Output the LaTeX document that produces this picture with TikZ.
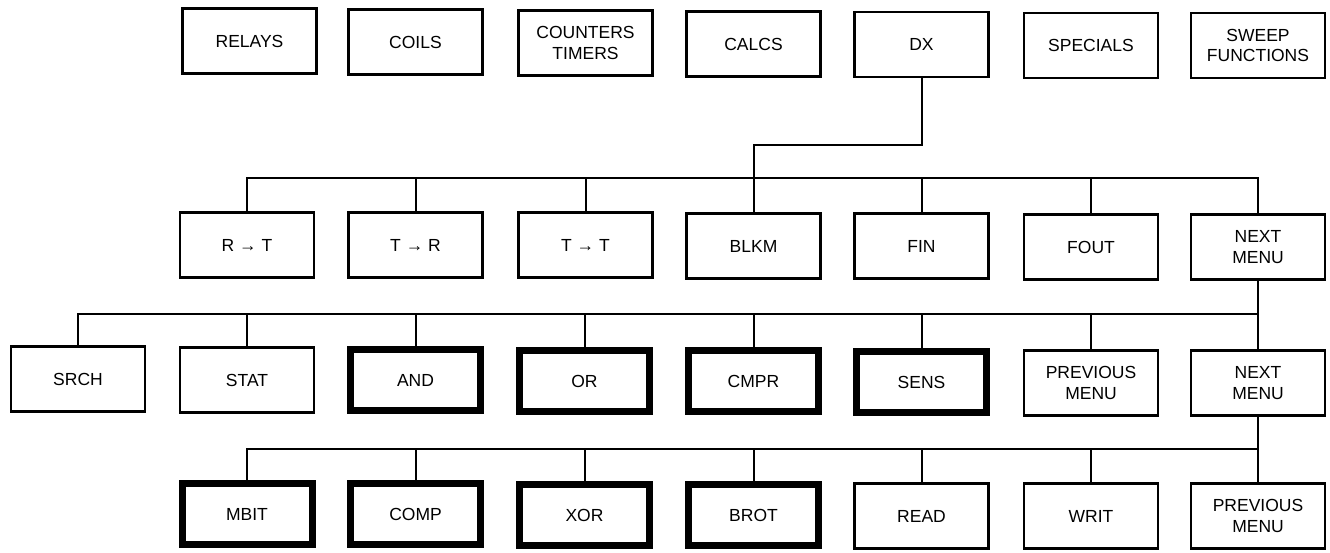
\documentclass[tikz,border=0pt]{standalone}
\usepackage{fontspec}
\setmainfont{Liberation Sans}
\begin{document}
\begin{tikzpicture}[x=1pt,y=-1pt,
  box/.style={draw, line width=2.6pt, minimum width=134pt, minimum height=65pt, inner sep=0pt,
     align=center, font=\fontsize{17.5}{20.5}\selectfont},
  thick box/.style={box, line width=7pt, minimum width=130pt, minimum height=61pt},
  link/.style={line width=2pt}]
\useasboundingbox (0,0) rectangle (1330,553);
% row 1
\node[box] (relays) at (249.5,41) {RELAYS};
\node[box] (coils) at (415.5,42) {COILS};
\node[box] (ct) at (585.5,43) {COUNTERS\\TIMERS};
\node[box] (calcs) at (753.5,44) {CALCS};
\node[box] (dx) at (921.5,44.5) {DX};
\node[box] (specials) at (1091,45.5) {SPECIALS};
\node[box] (sweep) at (1258,45.5) {SWEEP\\FUNCTIONS};
% row 2
\node[box] (rt) at (247,245) {R → T};
\node[box] (tr) at (415.5,245) {T → R};
\node[box] (tt) at (585.5,245) {T → T};
\node[box] (blkm) at (753.5,246) {BLKM};
\node[box] (fin) at (921.5,246) {FIN};
\node[box] (fout) at (1091,247) {FOUT};
\node[box] (next1) at (1258,247) {NEXT\\MENU};
% row 3
\node[box] (srch) at (78,379) {SRCH};
\node[box] (stat) at (247,380) {STAT};
\node[thick box] (and) at (415.5,380) {AND};
\node[thick box] (or) at (584.5,381) {OR};
\node[thick box] (cmpr) at (753.5,381) {CMPR};
\node[thick box] (sens) at (921.5,382) {SENS};
\node[box] (prev1) at (1091,383) {PREVIOUS\\MENU};
\node[box] (next2) at (1258,383) {NEXT\\MENU};
% row 4
\node[thick box] (mbit) at (247,514) {MBIT};
\node[thick box] (comp) at (415.5,514) {COMP};
\node[thick box] (xor) at (584.5,515) {XOR};
\node[thick box] (brot) at (753.5,515) {BROT};
\node[box] (read) at (921.5,516) {READ};
\node[box] (writ) at (1091,516) {WRIT};
\node[box] (prev2) at (1258,516) {PREVIOUS\\MENU};
% bus coordinates
\coordinate (elbow) at (753.5,145);
\coordinate (bus2) at (0,178.5);
\coordinate (bus3) at (0,313.5);
\coordinate (bus4) at (0,449);
% DX to row 2
\draw[link] (dx.south) |- (elbow) -- (elbow |- bus2);
\draw[link] (rt.north) -- (rt.north |- bus2) -- (next1.north |- bus2) -- (next1.north);
\foreach \n in {tr,tt,blkm,fin,fout} \draw[link] (\n.north) -- (\n.north |- bus2);
% row 2 next to row 3
\draw[link] (next1.south) -- (next2.north);
\draw[link] (srch.north) -- (srch.north |- bus3) -- (next2.north |- bus3);
\foreach \n in {stat,and,or,cmpr,sens,prev1} \draw[link] (\n.north) -- (\n.north |- bus3);
% row 3 next to row 4
\draw[link] (next2.south) -- (prev2.north);
\draw[link] (mbit.north) -- (mbit.north |- bus4) -- (prev2.north |- bus4);
\foreach \n in {comp,xor,brot,read,writ} \draw[link] (\n.north) -- (\n.north |- bus4);
\end{tikzpicture}
\end{document}
